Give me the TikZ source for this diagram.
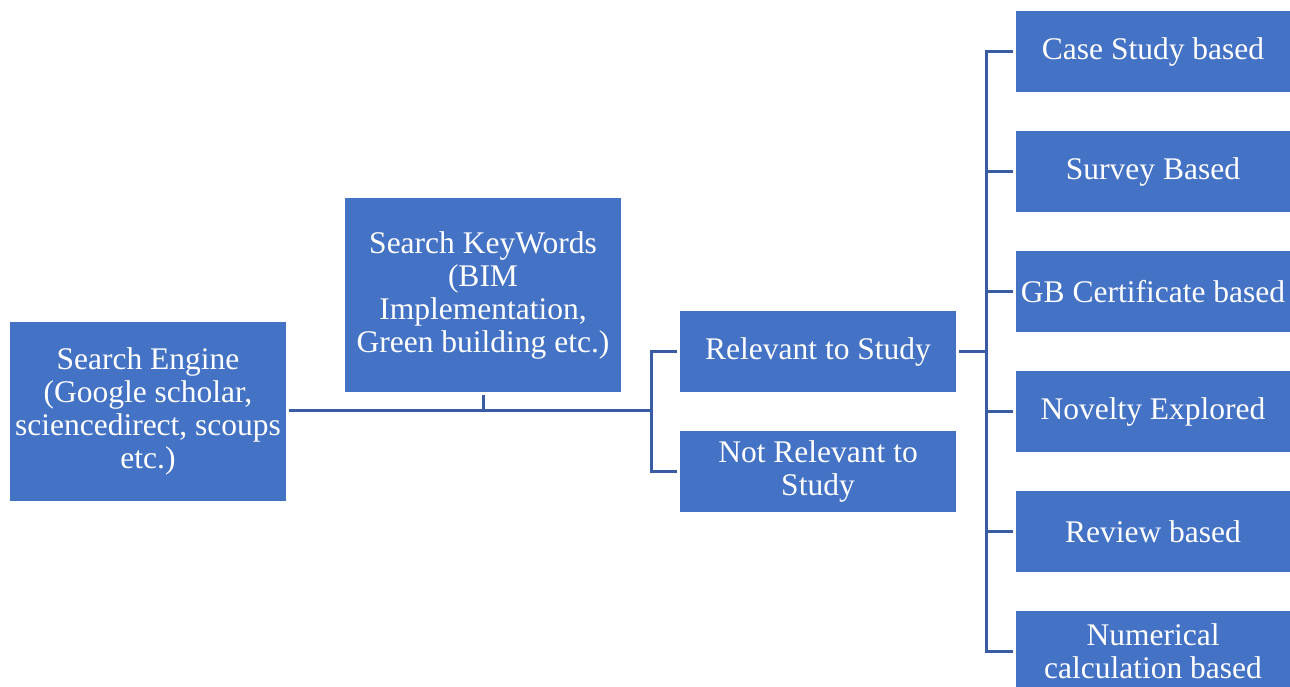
\documentclass[tikz,border=0pt]{standalone}
\usepackage{fontspec}
\setmainfont{Liberation Serif}
\definecolor{boxblue}{HTML}{4472C4}
\definecolor{lineblue}{HTML}{3A5CA5}
\begin{document}
\begin{tikzpicture}[x=1pt,y=-1pt,
  bx/.style={fill=boxblue, draw=none, text=white, align=center, inner sep=0pt,
    font=\fontsize{31.5}{33}\selectfont},
  conn/.style={draw=lineblue, line width=3pt}]
\useasboundingbox (0,0) rectangle (1290,686);
\clip (0,0) rectangle (1290,686);
\node[bx, minimum width=276pt, minimum height=179pt] (se) at (148,411.5)
  {Search Engine\\(Google scholar,\\sciencedirect, scoups\\etc.)};
\node[bx, minimum width=276pt, minimum height=194pt] (kw) at (483,295)
  {Search KeyWords\\(BIM\\Implementation,\\Green building etc.)};
\node[bx, minimum width=276pt, minimum height=81pt] (rel) at (818,351.5) {Relevant to Study};
\node[bx, minimum width=276pt, minimum height=81pt] (nrel) at (818,471.5) {Not Relevant to\\Study};
\node[bx, minimum width=274pt, minimum height=81pt] (b1) at (1153,51.5) {Case Study based};
\node[bx, minimum width=274pt, minimum height=81pt] (b2) at (1153,171.5) {Survey Based};
\node[bx, minimum width=274pt, minimum height=81pt] (b3) at (1153,291.5) {GB Certificate based};
\node[bx, minimum width=274pt, minimum height=81pt] (b4) at (1153,411.5) {Novelty Explored};
\node[bx, minimum width=274pt, minimum height=81pt] (b5) at (1153,531.5) {Review based};
\node[bx, minimum width=274pt, minimum height=81pt] (b6) at (1153,651.5) {Numerical\\calculation based};
\coordinate (j1) at (483,410);
\coordinate (j2) at (651,410);
\coordinate (j3) at (986,351.5);
\draw[conn] ([xshift=3pt]se.east |- j1) -- (j2);
\draw[conn] ([yshift=-3pt]kw.south) -- (j1);
\draw[conn] ([xshift=-3pt]rel.west) -| (j2) |- ([xshift=-3pt]nrel.west);
\draw[conn] ([xshift=3pt]rel.east) -- (j3);
\draw[conn] ([xshift=-3pt]b1.west) -| (j3) |- ([xshift=-3pt]b6.west);
\foreach \b in {b2,b3,b4,b5}{
  \draw[conn] (j3 |- \b.west) -- ([xshift=-3pt]\b.west);
}
\end{tikzpicture}
\end{document}
